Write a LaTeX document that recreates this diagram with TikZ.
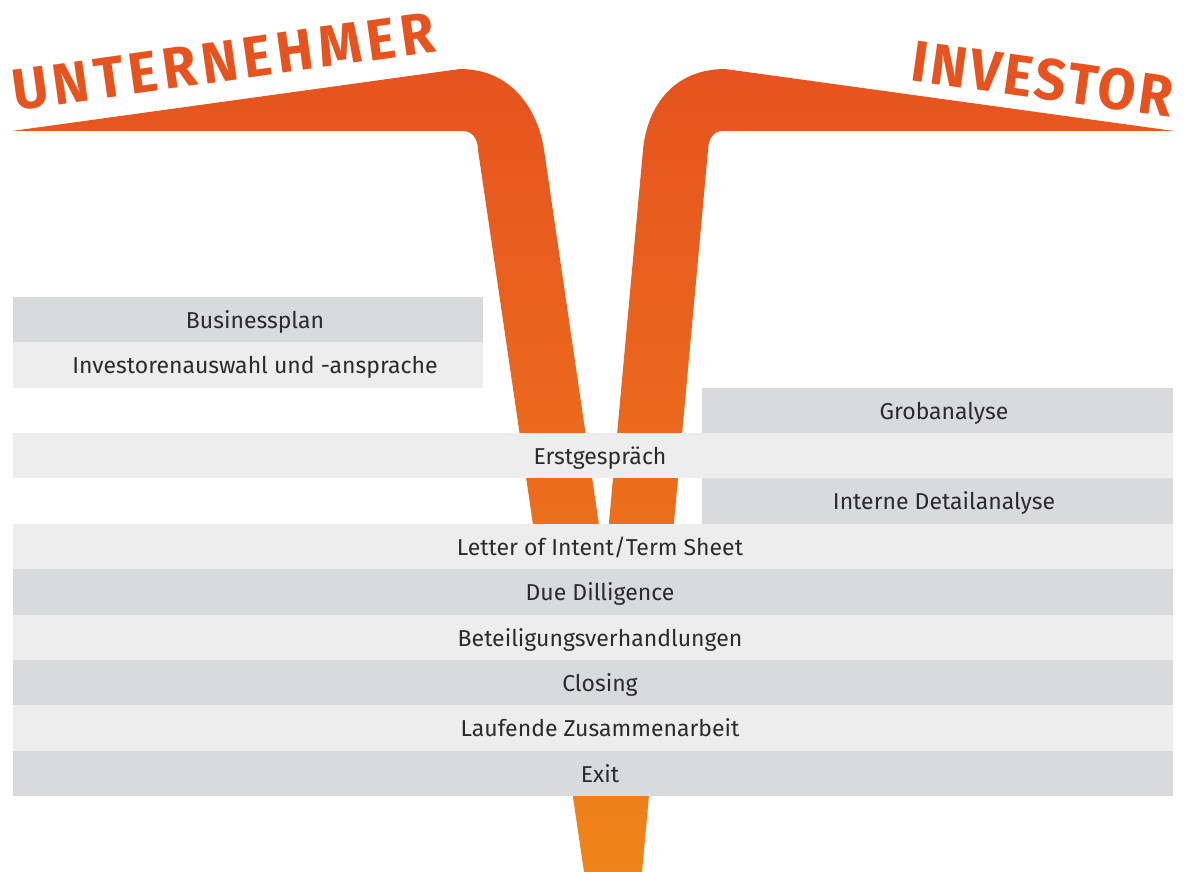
\documentclass[tikz,border=0pt]{standalone}
\usepackage{fontspec}
\setmainfont{Fira Sans}

\definecolor{armtop}{HTML}{E7531F}
\definecolor{armbot}{HTML}{EF8419}
\definecolor{rowdark}{HTML}{D9DADB}
\definecolor{rowlight}{HTML}{EDEDED}
\definecolor{rowtext}{HTML}{2B2B2B}

\tikzset{
	darkrow/.style={fill=rowdark},
	lightrow/.style={fill=rowlight},
	phase/.style={anchor=base, inner sep=0pt, text=rowtext, font=\fontsize{23}{26}\selectfont},
	party/.style={inner sep=0pt, text=armtop, font=\fontsize{58}{60}\selectfont\bfseries}
}

\begin{document}
\begin{tikzpicture}[x=1pt,y=-1pt]

	\useasboundingbox (0,0) rectangle (1186,872);
	\fill[white] (0,0) rectangle (1186,872);

	% the two arms, crossing below the table
	\shade[top color=armtop, bottom color=armbot]
	(12,131) -- (460,69)
	.. controls (512,69) and (538,110) .. (544,150)
	-- (605,566)
	-- (643,150)
	.. controls (647,106) and (674,69) .. (725,69)
	-- (1174,131) -- (722,131)
	.. controls (714,131) and (708,139) .. (708,150)
	-- (642,872) -- (584,872)
	-- (478,150)
	.. controls (478,139) and (472,131) .. (463,131)
	-- cycle;

	\node (un) [party, anchor=base west, rotate=8]
		at (15,111) {\addfontfeatures{FakeStretch=0.95,LetterSpace=9}UNTERNEHMER};
	\node (inv) [party, anchor=base east, rotate=-8]
		at (1170,117) {\addfontfeatures{FakeStretch=0.95,LetterSpace=5}INVESTOR};

	% rows
	\fill[darkrow] (13,297) rectangle (483,342.36);
	\fill[lightrow] (13,342.36) rectangle (483,387.72);
	\fill[darkrow] (702,387.72) rectangle (1173,433.08);
	\fill[lightrow] (13,433.08) rectangle (1173,478.44);
	\fill[darkrow] (702,478.44) rectangle (1173,523.8);
	\fill[lightrow] (13,523.8) rectangle (1173,569.16);
	\fill[darkrow] (13,569.16) rectangle (1173,614.52);
	\fill[lightrow] (13,614.52) rectangle (1173,659.88);
	\fill[darkrow] (13,659.88) rectangle (1173,705.24);
	\fill[lightrow] (13,705.24) rectangle (1173,750.6);
	\fill[darkrow] (13,750.6) rectangle (1173,795.96);

	\node (bp) [phase] at (255,328.5) {Businessplan};
	\node (ia) [phase] at (255,373.8) {Investorenauswahl und -ansprache};
	\node (ga) [phase] at (944,419.2) {Grobanalyse};
	\node (eg) [phase] at (600,464.6) {Erstgespräch};
	\node (da) [phase] at (944,509.9) {Interne Detailanalyse};
	\node (loi) [phase] at (600,555.3) {Letter of Intent/Term Sheet};
	\node (dd) [phase] at (600,600.6) {Due Dilligence};
	\node (bv) [phase] at (600,646) {Beteiligungsverhandlungen};
	\node (cl) [phase] at (600,691.4) {Closing};
	\node (lz) [phase] at (600,736.7) {Laufende Zusammenarbeit};
	\node (ex) [phase] at (600,782.1) {Exit};

\end{tikzpicture}
\end{document}
